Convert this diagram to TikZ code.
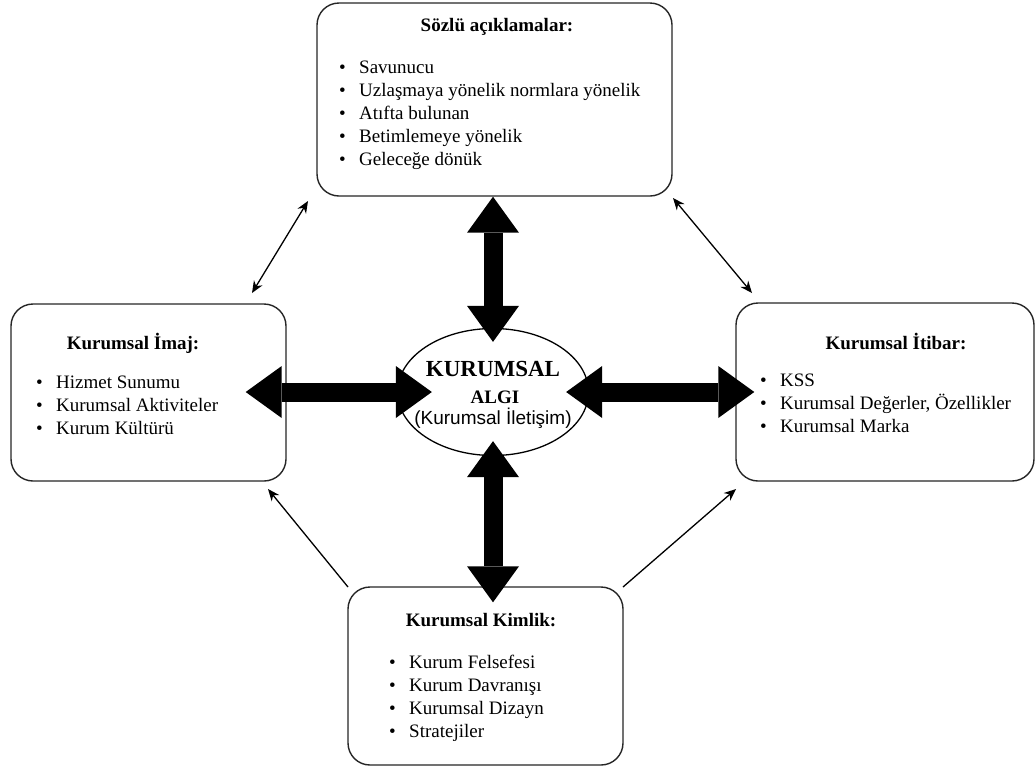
\documentclass[tikz,border=0pt]{standalone}
\usepackage{fontspec}
\setmainfont{Liberation Serif}
\newfontfamily\arialf{Liberation Sans}
\usetikzlibrary{arrows.meta,calc,shapes.geometric}
\newcommand\blist[1]{\begin{tabular}[t]{@{}l@{}}#1\end{tabular}}
\newcommand\bitem[1]{\makebox[20pt][l]{\textbullet}#1}
\begin{document}
\begin{tikzpicture}[x=1pt,y=-1pt,
 box/.style={draw=black!85,line width=1.4pt,rounded corners=22pt,fill=white,inner sep=0pt},
 ttl/.style={font=\fontsize{19}{23}\selectfont\bfseries,anchor=base,inner sep=0pt},
 lst/.style={font=\fontsize{19}{23}\selectfont,anchor=base west,inner sep=0pt},
 big/.style={line width=19pt,{Triangle[width=52pt,length=36pt,line width=0pt]}-{Triangle[width=52pt,length=36pt,line width=0pt]}},
 thin/.style={line width=1.3pt,{Stealth[length=12pt,width=10pt,line width=0pt]}-{Stealth[length=12pt,width=10pt,line width=0pt]}},
 thinone/.style={line width=1.3pt,-{Stealth[length=12pt,width=10pt,line width=0pt]}}]
\useasboundingbox (0,0) rectangle (1036,769);
% boxes
\node[box,minimum width=355pt,minimum height=193pt] (top) at (494.5,99.5) {};
\node[box,minimum width=275pt,minimum height=177pt] (imaj) at (148.5,392.5) {};
\node[box,minimum width=298pt,minimum height=178pt] (itibar) at (885,392) {};
\node[box,minimum width=275pt,minimum height=178pt] (kimlik) at (485.5,676) {};
\node[draw=black,line width=1.3pt,ellipse,fill=white,minimum width=191pt,minimum height=127pt,inner sep=0pt] (algi) at (493,392) {};
% titles
\node[ttl] (ttop) at (497,31) {Sözlü açıklamalar:};
\node[ttl] (timaj) at (133,349) {Kurumsal İmaj:};
\node[ttl] (titibar) at (896,349) {Kurumsal İtibar:};
\node[ttl] (tkimlik) at (481,626) {Kurumsal Kimlik:};
% lists
\node[lst] (ltop) at (339,73) {\blist{\bitem{Savunucu}\\ \bitem{Uzlaşmaya yönelik normlara yönelik}\\ \bitem{Atıfta bulunan}\\ \bitem{Betimlemeye yönelik}\\ \bitem{Geleceğe dönük}}};
\node[lst] (limaj) at (36,388) {\blist{\bitem{Hizmet Sunumu}\\ \bitem{Kurumsal Aktiviteler}\\ \bitem{Kurum Kültürü}}};
\node[lst] (litibar) at (760,386) {\blist{\bitem{KSS}\\ \bitem{Kurumsal Değerler, Özellikler}\\ \bitem{Kurumsal Marka}}};
\node[lst] (lkimlik) at (389,668) {\blist{\bitem{Kurum Felsefesi}\\ \bitem{Kurum Davranışı}\\ \bitem{Kurumsal Dizayn}\\ \bitem{Stratejiler}}};
% big arrows
\draw[big] (top.south -| algi.north) -- ($(algi.north)+(0,14)$);
\draw[big] ($(algi.south)+(0,-15)$) -- ($(kimlik.north -| algi.south)+(0,16)$);
\draw[big] ($(imaj.east |- algi.west)+(-41,0)$) -- ($(algi.west)+(35,0)$);
\draw[big] ($(algi.east)+(-23,0)$) -- ($(itibar.west |- algi.east)+(19,0)$);
% centre text
\node[font=\fontsize{23}{26}\selectfont\bfseries,anchor=base,inner sep=0pt] (k1) at (493,376) {KURUMSAL};
\node[font=\fontsize{19}{22}\selectfont\bfseries,anchor=base,inner sep=0pt] (k2) at (495,403) {ALGI};
\node[font=\fontsize{19}{22}\selectfont\arialf,anchor=base,inner sep=0pt] (k3) at (493,424) {(Kurumsal İletişim)};
% thin arrows
\coordinate (c1) at (252,293);
\coordinate (c2) at (308,201);
\coordinate (c3) at (673,198);
\coordinate (c4) at (752,293);
\coordinate (c5) at (348,587);
\coordinate (c6) at (268,489);
\coordinate (c7) at (623,587);
\coordinate (c8) at (736,489);
\draw[thin] (c1) -- (c2);
\draw[thin] (c3) -- (c4);
\draw[thinone] (c5) -- (c6);
\draw[thinone] (c7) -- (c8);
\end{tikzpicture}
\end{document}
